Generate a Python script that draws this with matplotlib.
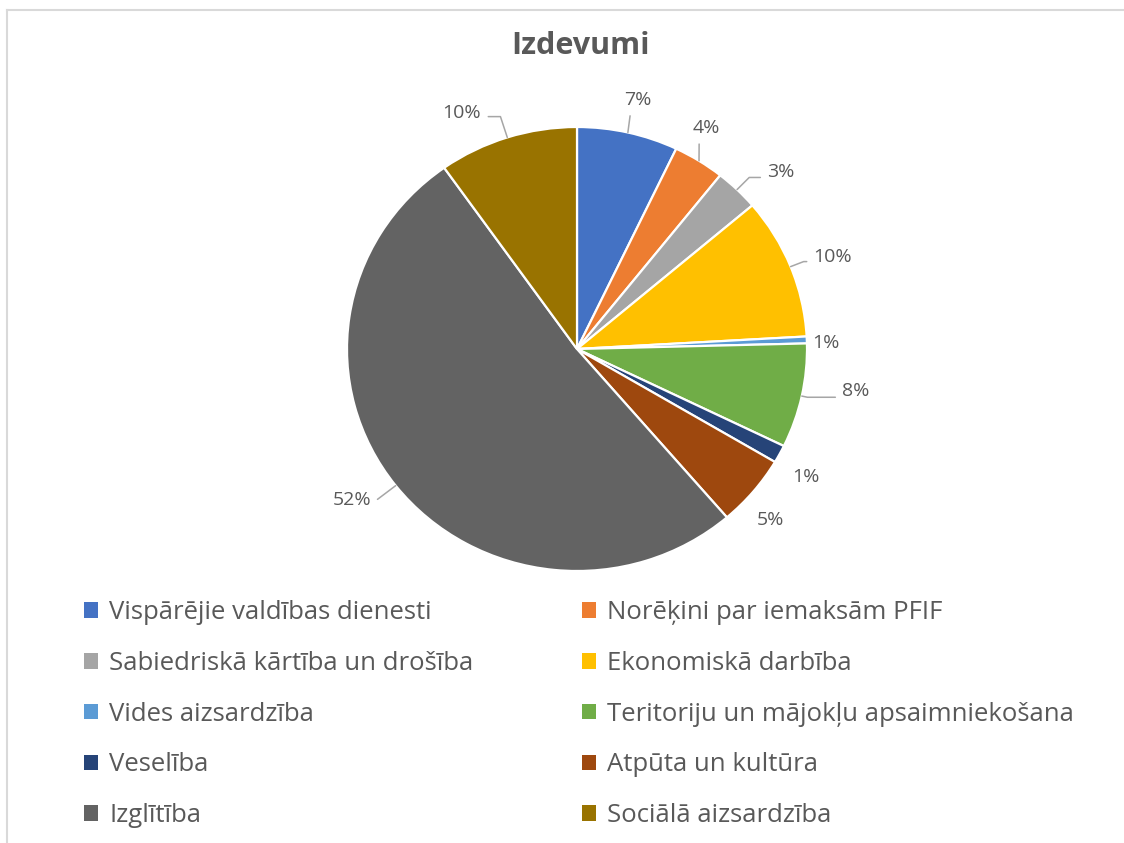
import matplotlib.pyplot as plt
from matplotlib.patches import Patch
from matplotlib.lines import Line2D
import numpy as np

# chart data
categories = [
    "Vispārējie valdības dienesti",
    "Norēķini par iemaksām PFIF",
    "Sabiedriskā kārtība un drošība",
    "Ekonomiskā darbība",
    "Vides aizsardzība",
    "Teritoriju un mājokļu apsaimniekošana",
    "Veselība",
    "Atpūta un kultūra",
    "Izglītība",
    "Sociālā aizsardzība",
]
shares = [7.1, 3.6, 3.1, 10.3, 0.5, 7.6, 1.3, 5.2, 51.5, 9.8]
pct_labels = ["7%", "4%", "3%", "10%", "1%", "8%", "1%", "5%", "52%", "10%"]
colors = ["#4472C4", "#ED7D31", "#A5A5A5", "#FFC000", "#5B9BD5",
          "#70AD47", "#264478", "#9E480E", "#636363", "#997300"]

# label layout (pie units), leader style and leader start on the text
label_pos = [(0.265, 1.122), (0.561, 0.995), (0.887, 0.797), (1.113, 0.414),
             (1.083, 0.027), (1.213, -0.189), (0.996, -0.577), (0.843, -0.770),
             (-0.978, -0.680), (-0.50, 1.063)]
leader = ["straight", "straight", "elbowL", "elbowL", None, "elbowL", None, None,
          "elbowR", "elbowR"]
leader_rel = [(0.25, 0.05), (0.25, 0.05), (0.0, 0.2), (0.0, 0.25), None,
              (0.0, 0.15), None, None, (1.0, 0.05), (1.0, 0.3)]

TEXT = "#595959"
FONT = "Open Sans"

W, H = 1124, 843
fig = plt.figure(figsize=(W / 100, H / 100), dpi=100)
fig.patch.set_facecolor("white")

# frame lines at top and left (cropped chart border)
fig.add_artist(Line2D([7 / W, 1], [1 - 10 / H] * 2, color="#d9d9d9", lw=1.5))
fig.add_artist(Line2D([7 / W] * 2, [0, 1 - 10 / H], color="#d9d9d9", lw=1.5))

fig.text(581 / W, 1 - 46 / H, "Izdevumi", ha="center", va="center",
         fontsize=22, fontweight="bold", color=TEXT, family=FONT)

# pie is slightly wider than tall in the reference
RX, RY = 230, 222
cx, cy = 577, 349
ax = fig.add_axes([(cx - RX) / W, (H - cy - RY) / H, 2 * RX / W, 2 * RY / H])
wedges, _ = ax.pie(shares, colors=colors, startangle=90, counterclock=False,
                   radius=1, wedgeprops=dict(edgecolor="white", linewidth=1.6))
ax.set_xlim(-1, 1)
ax.set_ylim(-1, 1)
ax.set_aspect("auto")
ax.axis("off")

total = sum(shares)
cum = np.cumsum([0] + shares)
for i, w in enumerate(wedges):
    mid = (cum[i] + cum[i + 1]) / 2 / total * 360  # degrees clockwise from top
    ang = np.radians(90 - mid)
    anchor = (np.cos(ang), np.sin(ang))
    disp_ang = np.degrees(np.arctan2(np.sin(ang) * RY, np.cos(ang) * RX))
    tx, ty = label_pos[i]
    kw = dict(ha="center", va="center", fontsize=14, color=TEXT, family=FONT,
              annotation_clip=False)
    style = leader[i]
    if style is None:
        ax.annotate(pct_labels[i], xy=(tx, ty), **kw)
        continue
    if style == "straight":
        conn = "arc3"
    elif style == "elbowL":
        conn = f"angle,angleA=0,angleB={disp_ang},rad=0"
    else:
        conn = f"angle,angleA=180,angleB={disp_ang},rad=0"
    ax.annotate(pct_labels[i], xy=anchor, xytext=(tx, ty),
                arrowprops=dict(arrowstyle="-", color="#a6a6a6", lw=1.1,
                                connectionstyle=conn, relpos=leader_rel[i],
                                shrinkA=3, shrinkB=0), **kw)

# legend: two columns, row-wise order
handles = [Patch(facecolor=c, edgecolor="none") for c in colors]
for col, x0 in enumerate([74 / W, 572 / W]):
    idx = list(range(col, len(categories), 2))
    leg = fig.legend([handles[j] for j in idx], [categories[j] for j in idx],
                     loc="upper left", bbox_to_anchor=(x0, 1 - 590 / H),
                     frameon=False, labelspacing=1.0,
                     handlelength=0.55, handleheight=0.55, handletextpad=0.42,
                     prop=dict(family=FONT, size=18.5), borderaxespad=0)
    for t in leg.get_texts():
        t.set_color(TEXT)

fig.savefig("out.png", dpi=100, facecolor="white")
